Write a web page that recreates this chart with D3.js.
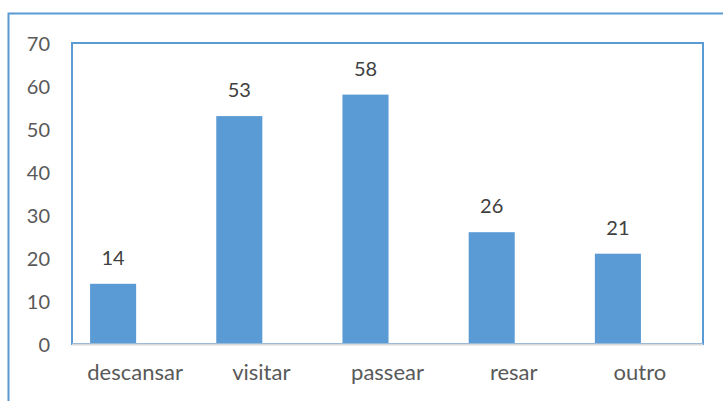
<!DOCTYPE html>
<html>
<head>
<meta charset="utf-8">
<script src="https://cdn.jsdelivr.net/npm/d3@7"></script>
<style>
  html, body { margin: 0; padding: 0; background: #fff; }
  svg { display: block; }
</style>
</head>
<body>
<svg id="chart" width="723" height="401"></svg>
<script>
const categories = ["descansar", "visitar", "passear", "resar", "outro"];
const values = [14, 53, 58, 26, 21];
const yTicks = [0, 10, 20, 30, 40, 50, 60, 70];

const W = 723, H = 401;
const svg = d3.select("#chart");
const font = "Lato, Carlito, 'Open Sans', sans-serif";
const textColor = "#595959";
const blue = "#5B9BD5";

// outer frame
svg.append("rect").attr("x", 8.5).attr("y", 13.5).attr("width", 730).attr("height", 400)
  .attr("fill", "#fff").attr("stroke", blue).attr("stroke-width", 2);

const plot = { left: 72, right: 703, top: 43, bottom: 344 };

const y = d3.scaleLinear().domain([0, 70]).range([plot.bottom, plot.top]);
// category band for labels (plot area)
const xLab = d3.scaleBand().domain(categories).range([plot.left, plot.right]);
// bars are drawn shifted left inside each band
const xBar = d3.scaleBand().domain(categories).range([plot.left - 22, plot.right - 22]).paddingInner(0.635).paddingOuter(0.3175);

// inner frame
svg.append("rect").attr("x", plot.left).attr("y", plot.top)
  .attr("width", plot.right - plot.left).attr("height", plot.bottom - plot.top)
  .attr("fill", "none").attr("stroke", blue).attr("stroke-width", 2);

// bars
svg.append("g").selectAll("rect").data(values).join("rect")
  .attr("x", (d, i) => xBar(categories[i]))
  .attr("width", xBar.bandwidth())
  .attr("y", d => y(d))
  .attr("height", d => y(0) - y(d))
  .attr("fill", blue);

// x axis line
svg.append("line").attr("x1", plot.left).attr("x2", plot.right)
  .attr("y1", plot.bottom + 0.5).attr("y2", plot.bottom + 0.5)
  .attr("stroke", "#D9D9D9").attr("stroke-width", 2);

// y axis labels
const yAxis = d3.axisLeft(y).tickValues(yTicks).tickSize(0).tickPadding(0);
const gy = svg.append("g").attr("transform", "translate(50,0)").call(yAxis);
gy.select(".domain").remove();
gy.selectAll("text").attr("font-family", font).attr("font-size", 20)
  .attr("fill", textColor).attr("dy", "0.36em");

// x axis labels
const xAxis = d3.axisBottom(xLab).tickSize(0).tickPadding(0);
const gx = svg.append("g").attr("transform", `translate(0,${plot.bottom})`).call(xAxis);
gx.select(".domain").remove();
gx.selectAll("text").attr("font-family", font).attr("font-size", 22)
  .attr("fill", textColor).attr("dy", null).attr("y", 36);

// value labels
svg.append("g").selectAll("text").data(values).join("text")
  .attr("x", (d, i) => xBar(categories[i]) + xBar.bandwidth() / 2)
  .attr("y", d => y(d) - 19)
  .attr("text-anchor", "middle")
  .attr("font-family", font).attr("font-size", 20).attr("fill", "#404040")
  .text(d => d);
</script>
</body>
</html>
